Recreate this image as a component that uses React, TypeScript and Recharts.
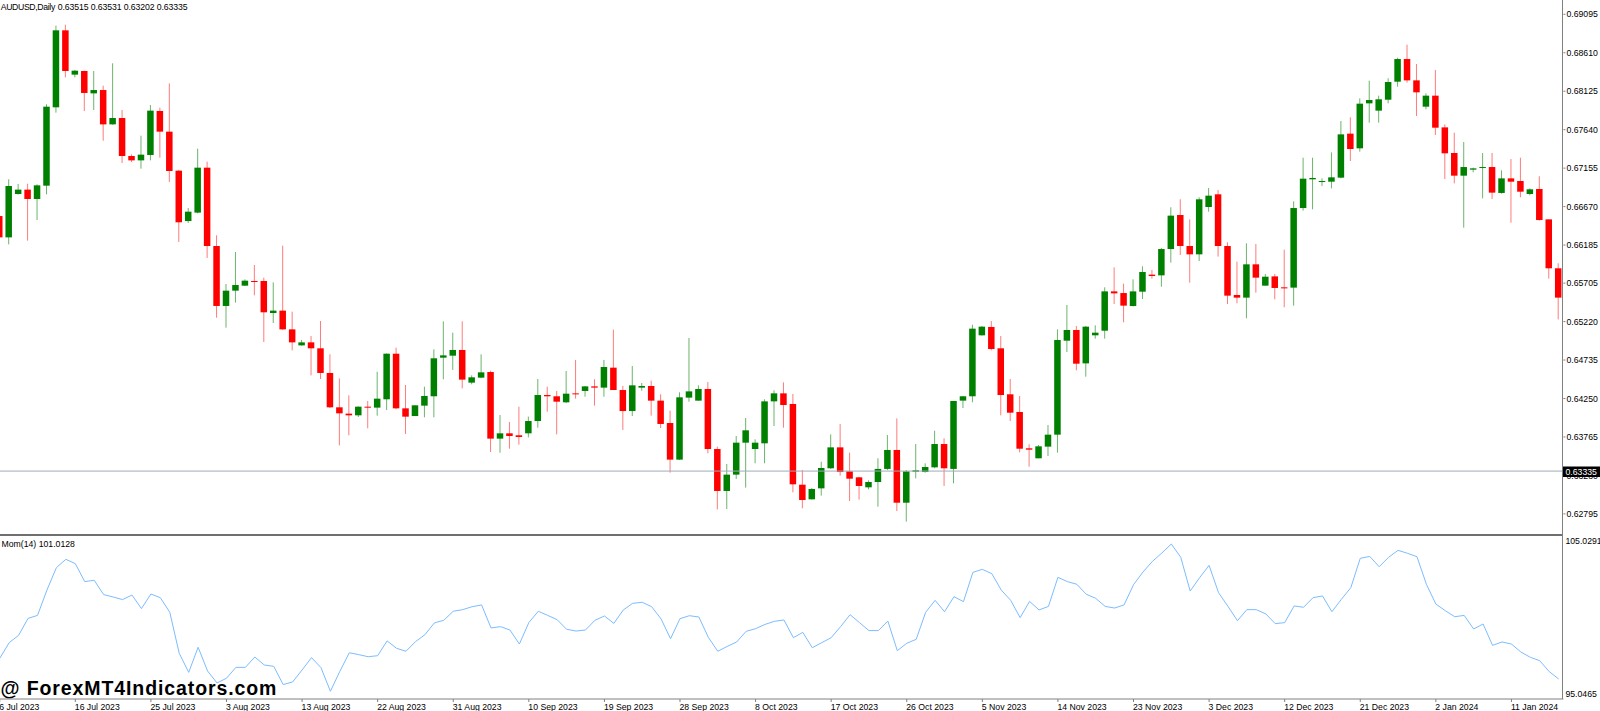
import { ComposedChart, Bar, XAxis, YAxis, ReferenceLine, LineChart, Line } from "recharts";

const FONT = "'Liberation Sans', Arial, sans-serif";

// time axis: one label every 8 bars
const tickLabels = [
  "6 Jul 2023", "16 Jul 2023", "25 Jul 2023", "3 Aug 2023", "13 Aug 2023", "22 Aug 2023", "31 Aug 2023",
  "10 Sep 2023", "19 Sep 2023", "28 Sep 2023", "8 Oct 2023", "17 Oct 2023", "26 Oct 2023", "5 Nov 2023",
  "14 Nov 2023", "23 Nov 2023", "3 Dec 2023", "12 Dec 2023", "21 Dec 2023", "2 Jan 2024", "11 Jan 2024",
];
const TICK_STEP = 8;

const opens = [
  0.66551, 0.66282, 0.66829, 0.66884, 0.66766, 0.66934, 0.67922, 0.68893, 0.68334, 0.6838,
  0.68098, 0.6814, 0.67707, 0.67787, 0.67308, 0.67253, 0.67321, 0.67876, 0.67615, 0.67123,
  0.66488, 0.66594, 0.67161, 0.66173, 0.65417, 0.6561, 0.65673, 0.65732, 0.65732, 0.65328,
  0.65358, 0.65122, 0.6492, 0.64958, 0.64883, 0.64572, 0.64139, 0.64059, 0.64038, 0.64147,
  0.64135, 0.6424, 0.64815, 0.64126, 0.64029, 0.6416, 0.64278, 0.64765, 0.6479, 0.64862,
  0.6445, 0.64513, 0.64584, 0.63744, 0.63811, 0.63786, 0.63811, 0.63966, 0.64294, 0.64278,
  0.64202, 0.64315, 0.64345, 0.64403, 0.64387, 0.64639, 0.64357, 0.64092, 0.64387, 0.64408,
  0.64223, 0.63941, 0.63479, 0.64261, 0.64223, 0.6437, 0.63613, 0.63084, 0.6329, 0.63693,
  0.63613, 0.63685, 0.64214, 0.64315, 0.64181, 0.63163, 0.62979, 0.63117, 0.6337, 0.63634,
  0.63331, 0.63256, 0.6313, 0.63197, 0.63362, 0.63601, 0.62936, 0.63327, 0.63323, 0.63382,
  0.63676, 0.63362, 0.64223, 0.64278, 0.65047, 0.65152, 0.64883, 0.64303, 0.6408, 0.63622,
  0.63496, 0.63643, 0.63794, 0.64979, 0.65114, 0.64693, 0.65047, 0.65105, 0.65601, 0.6558,
  0.65416, 0.65597, 0.65812, 0.65803, 0.66135, 0.66564, 0.66173, 0.66068, 0.66665, 0.66825,
  0.66173, 0.65555, 0.65522, 0.65942, 0.65673, 0.6579, 0.65652, 0.65648, 0.66652, 0.67014,
  0.6698, 0.66984, 0.67035, 0.6759, 0.67405, 0.67972, 0.6788, 0.68018, 0.68245, 0.68531,
  0.68262, 0.6793, 0.68069, 0.67669, 0.67346, 0.6706, 0.67136, 0.67157, 0.67169, 0.66842,
  0.67026, 0.66993, 0.66829, 0.66892, 0.66509, 0.65892,
];

const highs = [
  0.66585, 0.67014, 0.66955, 0.66959, 0.66951, 0.6796, 0.68952, 0.68964, 0.68393, 0.68384,
  0.6838, 0.68195, 0.68477, 0.67888, 0.67329, 0.67564, 0.67951, 0.67918, 0.68224, 0.67132,
  0.66652, 0.67401, 0.67237, 0.66308, 0.65694, 0.66097, 0.65753, 0.65934, 0.65774, 0.65715,
  0.66177, 0.65345, 0.64988, 0.65038, 0.65227, 0.64807, 0.64504, 0.6429, 0.64151, 0.64219,
  0.64588, 0.6482, 0.64891, 0.6442, 0.64168, 0.64399, 0.6487, 0.65223, 0.6508, 0.65223,
  0.64542, 0.64807, 0.64601, 0.64042, 0.63954, 0.64147, 0.64021, 0.64496, 0.64399, 0.64345,
  0.64597, 0.64736, 0.64408, 0.64492, 0.64736, 0.65118, 0.64408, 0.6466, 0.64446, 0.64475,
  0.64303, 0.64097, 0.64328, 0.65013, 0.64416, 0.64458, 0.63643, 0.63424, 0.63777, 0.64004,
  0.63735, 0.6424, 0.64353, 0.64454, 0.64307, 0.63348, 0.63121, 0.63453, 0.63798, 0.63928,
  0.63567, 0.63264, 0.63218, 0.63496, 0.6379, 0.64, 0.63348, 0.63676, 0.63432, 0.63844,
  0.63748, 0.64219, 0.64282, 0.65181, 0.65164, 0.65227, 0.65038, 0.64496, 0.64282, 0.63672,
  0.63664, 0.63916, 0.65122, 0.65429, 0.65164, 0.65164, 0.65173, 0.65652, 0.65904, 0.65698,
  0.65753, 0.65917, 0.65871, 0.66148, 0.66661, 0.66762, 0.66509, 0.66787, 0.66905, 0.66879,
  0.66219, 0.65976, 0.66207, 0.66198, 0.6582, 0.6582, 0.66127, 0.66736, 0.67287, 0.67287,
  0.67026, 0.67354, 0.67749, 0.67796, 0.68035, 0.68258, 0.68069, 0.68288, 0.68548, 0.68712,
  0.68468, 0.68098, 0.68393, 0.67707, 0.67602, 0.67485, 0.67161, 0.67346, 0.67346, 0.67127,
  0.6727, 0.67287, 0.669, 0.67052, 0.66509, 0.65955,
];

const lows = [
  0.66266, 0.66194, 0.66821, 0.6624, 0.66501, 0.66825, 0.67855, 0.683, 0.683, 0.67876,
  0.67888, 0.67501, 0.67703, 0.6722, 0.67232, 0.67148, 0.67253, 0.67287, 0.6698, 0.66224,
  0.66463, 0.66585, 0.66022, 0.65269, 0.65143, 0.65459, 0.65669, 0.65551, 0.64962, 0.65202,
  0.65114, 0.64857, 0.64916, 0.64542, 0.64496, 0.6413, 0.63659, 0.63786, 0.64017, 0.63874,
  0.64034, 0.64105, 0.64114, 0.63802, 0.64029, 0.64013, 0.64013, 0.64492, 0.6461, 0.64378,
  0.64429, 0.64505, 0.63575, 0.63567, 0.63617, 0.63668, 0.6376, 0.63882, 0.64084, 0.63798,
  0.64192, 0.64248, 0.64273, 0.6416, 0.64273, 0.64357, 0.63853, 0.64029, 0.64349, 0.64034,
  0.63878, 0.63315, 0.63475, 0.6421, 0.64223, 0.63559, 0.62852, 0.62856, 0.63235, 0.63126,
  0.63433, 0.63433, 0.63903, 0.63882, 0.63067, 0.62865, 0.62975, 0.63025, 0.63362, 0.63277,
  0.62957, 0.62975, 0.63105, 0.62886, 0.63348, 0.62831, 0.62697, 0.63243, 0.63315, 0.6337,
  0.63147, 0.6318, 0.6413, 0.64202, 0.65042, 0.64857, 0.64038, 0.63966, 0.63571, 0.6339,
  0.63496, 0.63525, 0.63567, 0.64836, 0.64605, 0.64525, 0.65005, 0.65005, 0.65442, 0.65211,
  0.65412, 0.65505, 0.65761, 0.6566, 0.65963, 0.6606, 0.65711, 0.65984, 0.66606, 0.66039,
  0.65442, 0.6545, 0.65261, 0.65585, 0.65673, 0.65501, 0.654, 0.65421, 0.66619, 0.66636,
  0.6693, 0.669, 0.67026, 0.67245, 0.67363, 0.67728, 0.67728, 0.67972, 0.68182, 0.68233,
  0.67813, 0.67897, 0.67573, 0.67018, 0.66963, 0.66404, 0.67102, 0.66774, 0.66766, 0.66833,
  0.66467, 0.66787, 0.66812, 0.66492, 0.65761, 0.65248,
];

const closes = [
  0.66282, 0.6693, 0.66884, 0.66766, 0.66938, 0.6793, 0.68893, 0.6838, 0.68384, 0.68103,
  0.6814, 0.67707, 0.67787, 0.67308, 0.67253, 0.67325, 0.6788, 0.67615, 0.67119, 0.66472,
  0.66606, 0.67161, 0.66173, 0.65417, 0.6561, 0.65681, 0.65736, 0.65719, 0.65337, 0.65358,
  0.65122, 0.64958, 0.64958, 0.64883, 0.64572, 0.64139, 0.64063, 0.64038, 0.64147, 0.64135,
  0.64248, 0.64815, 0.64126, 0.64021, 0.64164, 0.64282, 0.64757, 0.64794, 0.64862, 0.64488,
  0.64517, 0.6458, 0.63744, 0.63811, 0.63777, 0.63765, 0.63966, 0.64294, 0.64278, 0.6421,
  0.64311, 0.64303, 0.64403, 0.64387, 0.64647, 0.64357, 0.64092, 0.64416, 0.64408, 0.64223,
  0.63929, 0.63479, 0.64265, 0.6434, 0.6437, 0.63613, 0.63084, 0.6329, 0.63693, 0.63849,
  0.63693, 0.64214, 0.64315, 0.64168, 0.63168, 0.6297, 0.63109, 0.63374, 0.63634, 0.63323,
  0.63239, 0.63147, 0.63197, 0.63362, 0.63601, 0.62936, 0.63331, 0.63344, 0.63386, 0.63676,
  0.6337, 0.64219, 0.64278, 0.65131, 0.65156, 0.64874, 0.64294, 0.64071, 0.63617, 0.63605,
  0.63647, 0.63794, 0.64988, 0.65114, 0.64689, 0.65156, 0.6508, 0.65601, 0.65576, 0.65421,
  0.65601, 0.65845, 0.65795, 0.66135, 0.66556, 0.66173, 0.66068, 0.66762, 0.66808, 0.66173,
  0.65547, 0.65522, 0.65942, 0.65774, 0.65786, 0.65644, 0.65639, 0.66652, 0.67022, 0.67031,
  0.66993, 0.67039, 0.67581, 0.67396, 0.67968, 0.68014, 0.68023, 0.68241, 0.68531, 0.68262,
  0.68111, 0.68069, 0.67665, 0.67342, 0.6706, 0.67169, 0.67152, 0.67169, 0.66846, 0.67026,
  0.66984, 0.66858, 0.66888, 0.66501, 0.65892, 0.65522,
];

const momentum = [
  97.28, 98.34, 98.84, 99.99, 100.19, 101.91, 103.43, 103.99, 103.7, 102.48,
  102.57, 101.6, 101.44, 101.26, 101.57, 100.65, 101.64, 101.39, 100.4, 97.62,
  96.33, 98.03, 96.42, 95.61, 95.93, 96.67, 96.67, 97.37, 96.83, 96.74,
  95.5, 95.68, 96.49, 97.33, 96.65, 95.05, 96.4, 97.66, 97.53, 97.39,
  97.46, 98.46, 97.96, 97.76, 98.41, 98.88, 99.68, 99.86, 100.47, 100.58,
  100.78, 100.9, 99.34, 99.43, 99.2, 98.25, 99.7, 100.47, 100.19, 99.9,
  99.25, 99.13, 99.2, 99.86, 100.15, 99.65, 100.56, 101.01, 101.08, 100.78,
  99.95, 98.61, 99.97, 100.17, 100.08, 98.7, 97.76, 98.09, 98.39, 99.11,
  99.29, 99.58, 99.79, 99.88, 98.68, 99.04, 98.0, 98.34, 98.68, 99.43,
  100.24, 99.7, 99.16, 99.16, 99.81, 97.8, 98.3, 98.57, 100.4, 101.21,
  100.44, 101.46, 101.12, 103.11, 103.31, 103.02, 101.91, 101.21, 100.04, 101.14,
  100.56, 100.8, 102.77, 102.48, 102.3, 101.62, 101.35, 100.8, 100.69, 100.9,
  102.27, 103.13, 103.85, 104.42, 105.03, 104.13, 101.84, 102.75, 103.58, 101.73,
  100.8, 99.83, 100.58, 100.58, 100.29, 99.63, 99.7, 100.83, 100.74, 101.39,
  101.51, 100.44, 101.28, 102.07, 104.06, 104.19, 103.49, 104.13, 104.6, 104.4,
  104.17, 102.3, 100.96, 100.51, 100.1, 100.19, 99.27, 99.61, 98.16, 98.39,
  98.25, 97.71, 97.35, 97.12, 96.38, 95.88,
];

const priceTicks = [
  0.69095, 0.6861, 0.68125, 0.6764, 0.67155, 0.6667, 0.66185, 0.65705, 0.6522, 0.64735,
  0.6425, 0.63765, 0.6328, 0.62795,
];
const priceDomain = [0.62554, 0.692753];
const lastPrice = 0.63335;
const symbolTitle = "AUDUSD,Daily";
const ohlcText = "0.63515 0.63531 0.63202 0.63335";

const momTitle = "Mom(14) 101.0128";
const momTicks = [95.0465, 105.0291];
const momDomain = [94.5247, 105.5035];

const candles = opens.map((open, i) => ({
  i,
  open,
  high: highs[i],
  low: lows[i],
  close: closes[i],
  range: [lows[i], highs[i]],
}));
const momData = momentum.map((value, i) => ({ i, value }));
const dateTicks = tickLabels.map((_, k) => k * TICK_STEP);

const BODY_W = 6.5;

const Candle = (props: any) => {
  const { x, y, width, height, payload } = props;
  const { open, high, low, close } = payload;
  const top = Math.min(y, y + height);
  const bottom = Math.max(y, y + height);
  const k = (bottom - top) / (high - low);
  const yOf = (v: number) => top + (high - v) * k;
  const bull = close >= open;
  const bodyTop = yOf(Math.max(open, close));
  const bodyH = Math.max(1, yOf(Math.min(open, close)) - bodyTop);
  const cx = x + width / 2;
  return (
    <g>
      <line x1={cx} x2={cx} y1={top} y2={bottom} stroke={bull ? "#6cb46c" : "#ff7b7b"} strokeWidth={1} />
      <rect x={cx - BODY_W / 2} y={bodyTop} width={BODY_W} height={bodyH} fill={bull ? "#008000" : "#ff0000"} />
    </g>
  );
};

const DateTick = (props: any) => {
  const { x, y, payload } = props;
  const label = tickLabels[Math.round(payload.value / TICK_STEP)];
  return (
    <g>
      <line x1={x} x2={x} y1={y} y2={y + 3} stroke="#808080" />
      <text x={x - 0.5} y={y + 11} fontSize={8.7} fontFamily={FONT} fill="#000">
        {label}
      </text>
    </g>
  );
};

const MomTick = (props: any) => {
  const { x, y, payload } = props;
  const top = payload.value > 100;
  return (
    <text x={x} y={top ? y : y + 6} fontSize={8.7} fontFamily={FONT} fill="#000">
      {payload.value.toFixed(4)}
    </text>
  );
};

export default function App() {
  return (
    <div
      style={{
        position: "absolute",
        left: 0,
        top: 0,
        width: 1600,
        height: 711,
        background: "#fff",
        overflow: "hidden",
        fontFamily: FONT,
      }}
    >
      {/* price window */}
      <div style={{ position: "absolute", left: -5.4, top: 0 }}>
        <ComposedChart width={1606} height={533} data={candles} margin={{ top: 0, right: 0, bottom: 0, left: 0 }}>
          <XAxis dataKey="i" hide />
          <YAxis
            orientation="right"
            width={37.6}
            domain={priceDomain}
            allowDataOverflow
            ticks={priceTicks}
            interval={0}
            axisLine={false}
            tickSize={2}
            tickMargin={1}
            tickLine={{ stroke: "#808080" }}
            tick={{ fontSize: 8.7, fill: "#000", fontFamily: FONT }}
            tickFormatter={(v: number) => v.toFixed(5)}
          />
          <ReferenceLine y={lastPrice} stroke="#a0aabb" strokeWidth={1} />
          <Bar dataKey="range" barSize={BODY_W} shape={<Candle />} isAnimationActive={false} />
        </ComposedChart>
      </div>

      {/* momentum window */}
      <div style={{ position: "absolute", left: -5.4, top: 537 }}>
        <LineChart width={1606} height={174} data={momData} margin={{ top: 0, right: 0, bottom: 0, left: 0 }}>
          <XAxis
            dataKey="i"
            type="number"
            domain={[-0.5, momentum.length - 0.5]}
            ticks={dateTicks}
            interval={0}
            height={12}
            axisLine={{ stroke: "#808080" }}
            tickLine={false}
            tickSize={0}
            tickMargin={0}
            tick={<DateTick />}
          />
          <YAxis
            orientation="right"
            width={37.6}
            domain={momDomain}
            allowDataOverflow
            ticks={momTicks}
            interval={0}
            axisLine={false}
            tickLine={false}
            tickSize={0}
            tickMargin={2}
            tick={<MomTick />}
          />
          <Line
            type="linear"
            dataKey="value"
            stroke="#7cbcff"
            strokeWidth={1}
            dot={false}
            isAnimationActive={false}
          />
        </LineChart>
      </div>

      {/* window separator and price scale border */}
      <div style={{ position: "absolute", left: 0, top: 534, width: 1562, height: 2, background: "#6f6f6f" }} />
      <div style={{ position: "absolute", left: 1562, top: 0, width: 1, height: 699, background: "#808080" }} />

      <svg width={1600} height={711} style={{ position: "absolute", left: 0, top: 0, pointerEvents: "none" }}>
        <text x={0.7} y={10} fontSize={8.7} letterSpacing={-0.35} fontFamily={FONT} fill="#000">
          {symbolTitle}
        </text>
        <text x={57.7} y={10} fontSize={8.7} letterSpacing={-0.1} fontFamily={FONT} fill="#000">
          {ohlcText}
        </text>
        <text x={1.5} y={546.5} fontSize={8.7} fontFamily={FONT} fill="#000">
          {momTitle}
        </text>
        <rect x={1563} y={466.5} width={37} height={10.5} fill="#000" />
        <text x={1565.5} y={474.8} fontSize={8.7} fontFamily={FONT} fill="#fff">
          {lastPrice.toFixed(5)}
        </text>
        <text x={0.5} y={695} fontSize={19.5} fontWeight="bold" letterSpacing={0.9} fontFamily={FONT} fill="#000">
          @ ForexMT4Indicators.com
        </text>
      </svg>
    </div>
  );
}
